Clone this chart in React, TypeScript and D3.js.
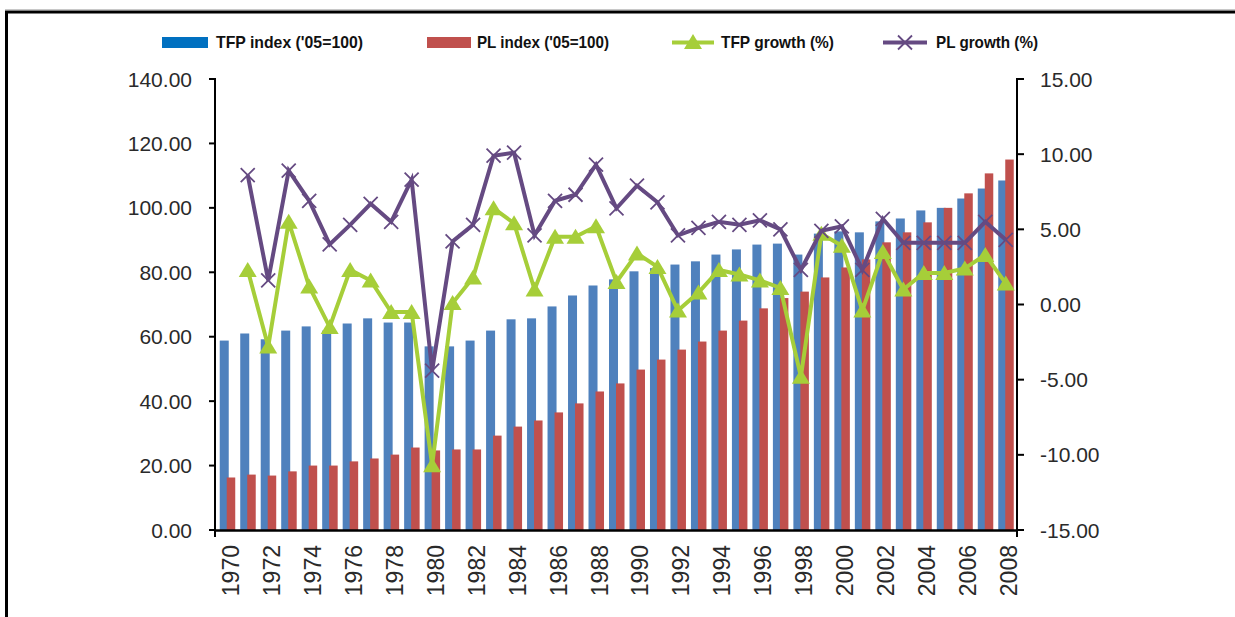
import React from 'react';
import * as d3 from 'd3';

// categories
const years = [
  1970, 1971, 1972, 1973, 1974, 1975, 1976, 1977, 1978, 1979,
  1980, 1981, 1982, 1983, 1984, 1985, 1986, 1987, 1988, 1989,
  1990, 1991, 1992, 1993, 1994, 1995, 1996, 1997, 1998, 1999,
  2000, 2001, 2002, 2003, 2004, 2005, 2006, 2007, 2008,
];

// bars, left axis
const tfpIndex = [
  58.8, 61.0, 59.2, 61.9, 63.2, 61.9, 64.1, 65.7, 64.4, 64.4,
  57.0, 57.0, 58.8, 61.9, 65.4, 65.7, 69.4, 72.8, 75.9, 77.8,
  80.3, 81.3, 82.4, 83.4, 85.5, 87.1, 88.6, 88.9, 85.5, 92.0,
  92.7, 92.4, 95.8, 96.7, 99.2, 100.0, 102.9, 106.0, 108.5,
];
const plIndex = [
  16.3, 17.2, 16.9, 18.2, 20.0, 20.0, 21.3, 22.2, 23.4, 25.6,
  24.7, 25.0, 25.0, 29.3, 32.1, 34.0, 36.5, 39.3, 43.0, 45.5,
  49.8, 52.9, 56.0, 58.5, 61.9, 65.0, 68.8, 72.0, 74.0, 78.4,
  81.5, 84.0, 89.3, 92.4, 95.5, 100.0, 104.5, 110.7, 115.0,
];

// lines, right axis (no value for 1970)
const tfpGrowth = [
  null, 2.3, -2.8, 5.5, 1.2, -1.5, 2.3, 1.6, -0.5, -0.5,
  -10.7, 0.1, 1.8, 6.4, 5.4, 1.0, 4.5, 4.5, 5.2, 1.5,
  3.4, 2.5, -0.4, 0.8, 2.3, 2.0, 1.6, 1.1, -4.8, 4.7,
  3.9, -0.4, 3.5, 1.0, 2.1, 2.1, 2.4, 3.3, 1.4,
];
const plGrowth = [
  null, 8.6, 1.6, 8.9, 6.9, 4.0, 5.3, 6.7, 5.5, 8.3,
  -4.4, 4.2, 5.3, 9.9, 10.1, 4.6, 6.9, 7.3, 9.3, 6.4,
  7.9, 6.8, 4.6, 5.1, 5.5, 5.3, 5.6, 5.0, 2.3, 4.9,
  5.2, 2.3, 5.7, 4.1, 4.1, 4.1, 4.1, 5.5, 4.3,
];

const leftTicks = [0, 20, 40, 60, 80, 100, 120, 140];
const rightTicks = [-15, -10, -5, 0, 5, 10, 15];
const xTickYears = years.filter((y) => y % 2 === 0);

const legendNames = ["TFP index ('05=100)", "PL index ('05=100)", 'TFP growth (%)', 'PL growth (%)'];

const BLUE = '#4F81BD';
const RED = '#C0504D';
const GREEN = '#A6CE39';
const PURPLE = '#654A82';

const triPath = 'M0,-8L9,7L-9,7Z';
const crossPath = 'M-7,-7L7,7M-7,7L7,-7';

export default function App() {
  const x = d3.scaleBand<string>().domain(years.map(String)).range([217, 1016]).padding(0);
  const yL = d3.scaleLinear().domain([0, 140]).range([530, 79]);
  const yR = d3.scaleLinear().domain([-15, 15]).range([530, 79]);
  const cx = (i: number) => (x(String(years[i])) ?? 0) + x.bandwidth() / 2;

  const line = d3
    .line<number | null>()
    .defined((d) => d != null)
    .x((_, i) => cx(i))
    .y((d) => yR(d as number));

  const tickFont = { fontFamily: 'Liberation Sans, Arial, sans-serif', fontSize: 21, fill: '#2a2a2a' };
  const legendFont = {
    fontFamily: '"Liberation Sans Narrow", "Arial Narrow", "Liberation Sans", sans-serif',
    fontSize: 17,
    fontWeight: 700,
    fill: '#111',
  };

  return (
    <svg
      width={1235}
      height={617}
      style={{ position: 'absolute', left: 0, top: 0, background: '#fff' }}
    >
      {/* frame */}
      <line x1={5} x2={1235} y1={9.5} y2={9.5} stroke="#c8c8c8" strokeWidth={1} />
      <path d="M6.5,617V12H1235" fill="none" stroke="#000" strokeWidth={3} />

      {/* legend */}
      <g>
        <rect x={162} y={37} width={46} height={11} fill="#0070C0" />
        <text x={216} y={48} textLength={147} lengthAdjust="spacingAndGlyphs" {...legendFont}>{legendNames[0]}</text>
        <rect x={427} y={37} width={44} height={11} fill={RED} />
        <text x={477} y={48} textLength={132} lengthAdjust="spacingAndGlyphs" {...legendFont}>{legendNames[1]}</text>
        <line x1={672} x2={714} y1={42.5} y2={42.5} stroke={GREEN} strokeWidth={4} />
        <path d={triPath} transform="translate(693,42)" fill={GREEN} />
        <text x={721} y={48} textLength={113} lengthAdjust="spacingAndGlyphs" {...legendFont}>{legendNames[2]}</text>
        <line x1={883} x2={927} y1={42.5} y2={42.5} stroke={PURPLE} strokeWidth={4} />
        <path d={crossPath} transform="translate(905,42.5)" stroke={PURPLE} strokeWidth={1.8} fill="none" />
        <text x={936} y={48} textLength={102} lengthAdjust="spacingAndGlyphs" {...legendFont}>{legendNames[3]}</text>
      </g>

      {/* bars */}
      <g>
        {years.map((yr, i) => (
          <rect key={'b' + yr} x={cx(i) - 7.5} width={9} y={yL(tfpIndex[i])} height={yL(0) - yL(tfpIndex[i])} fill={BLUE} />
        ))}
        {years.map((yr, i) => (
          <rect key={'r' + yr} x={cx(i) - 0.5} width={8.5} y={yL(plIndex[i])} height={yL(0) - yL(plIndex[i])} fill={RED} />
        ))}
      </g>

      {/* TFP growth */}
      <path d={line(tfpGrowth) ?? ''} fill="none" stroke={GREEN} strokeWidth={4} strokeLinejoin="miter" />
      {tfpGrowth.map((v, i) =>
        v == null ? null : (
          <path key={'t' + i} d={triPath} transform={`translate(${cx(i)},${yR(v)})`} fill={GREEN} />
        )
      )}

      {/* PL growth */}
      <path d={line(plGrowth) ?? ''} fill="none" stroke={PURPLE} strokeWidth={4} strokeLinejoin="miter" />
      {plGrowth.map((v, i) =>
        v == null ? null : (
          <path key={'p' + i} d={crossPath} transform={`translate(${cx(i)},${yR(v)})`} stroke={PURPLE} strokeWidth={1.8} fill="none" />
        )
      )}

      {/* left axis */}
      <line x1={215} x2={215} y1={78} y2={537} stroke="#000" strokeWidth={2} />
      {leftTicks.map((t) => (
        <g key={'lt' + t}>
          <line x1={209} x2={215} y1={yL(t)} y2={yL(t)} stroke="#000" strokeWidth={2} />
          <text x={192} y={yL(t)} dy="0.36em" textAnchor="end" {...tickFont}>{t.toFixed(2)}</text>
        </g>
      ))}

      {/* right axis */}
      <line x1={1017} x2={1017} y1={78} y2={537} stroke="#000" strokeWidth={2} />
      {rightTicks.map((t) => (
        <g key={'rt' + t}>
          <line x1={1017} x2={1024} y1={yR(t)} y2={yR(t)} stroke="#000" strokeWidth={2} />
          <text x={1040} y={yR(t)} dy="0.36em" textAnchor="start" {...tickFont}>{t.toFixed(2)}</text>
        </g>
      ))}

      {/* x axis */}
      <line x1={214} x2={1018} y1={530.5} y2={530.5} stroke="#000" strokeWidth={2.5} />
      {xTickYears.map((yr) => {
        const px = (x(String(yr)) ?? 0) + x.bandwidth() / 2 + 11.5;
        return (
          <text
            key={'x' + yr}
            transform={`translate(${px},545) rotate(-90)`}
            textAnchor="end"
            {...tickFont}
            fontSize={23}
          >
            {yr}
          </text>
        );
      })}
    </svg>
  );
}
